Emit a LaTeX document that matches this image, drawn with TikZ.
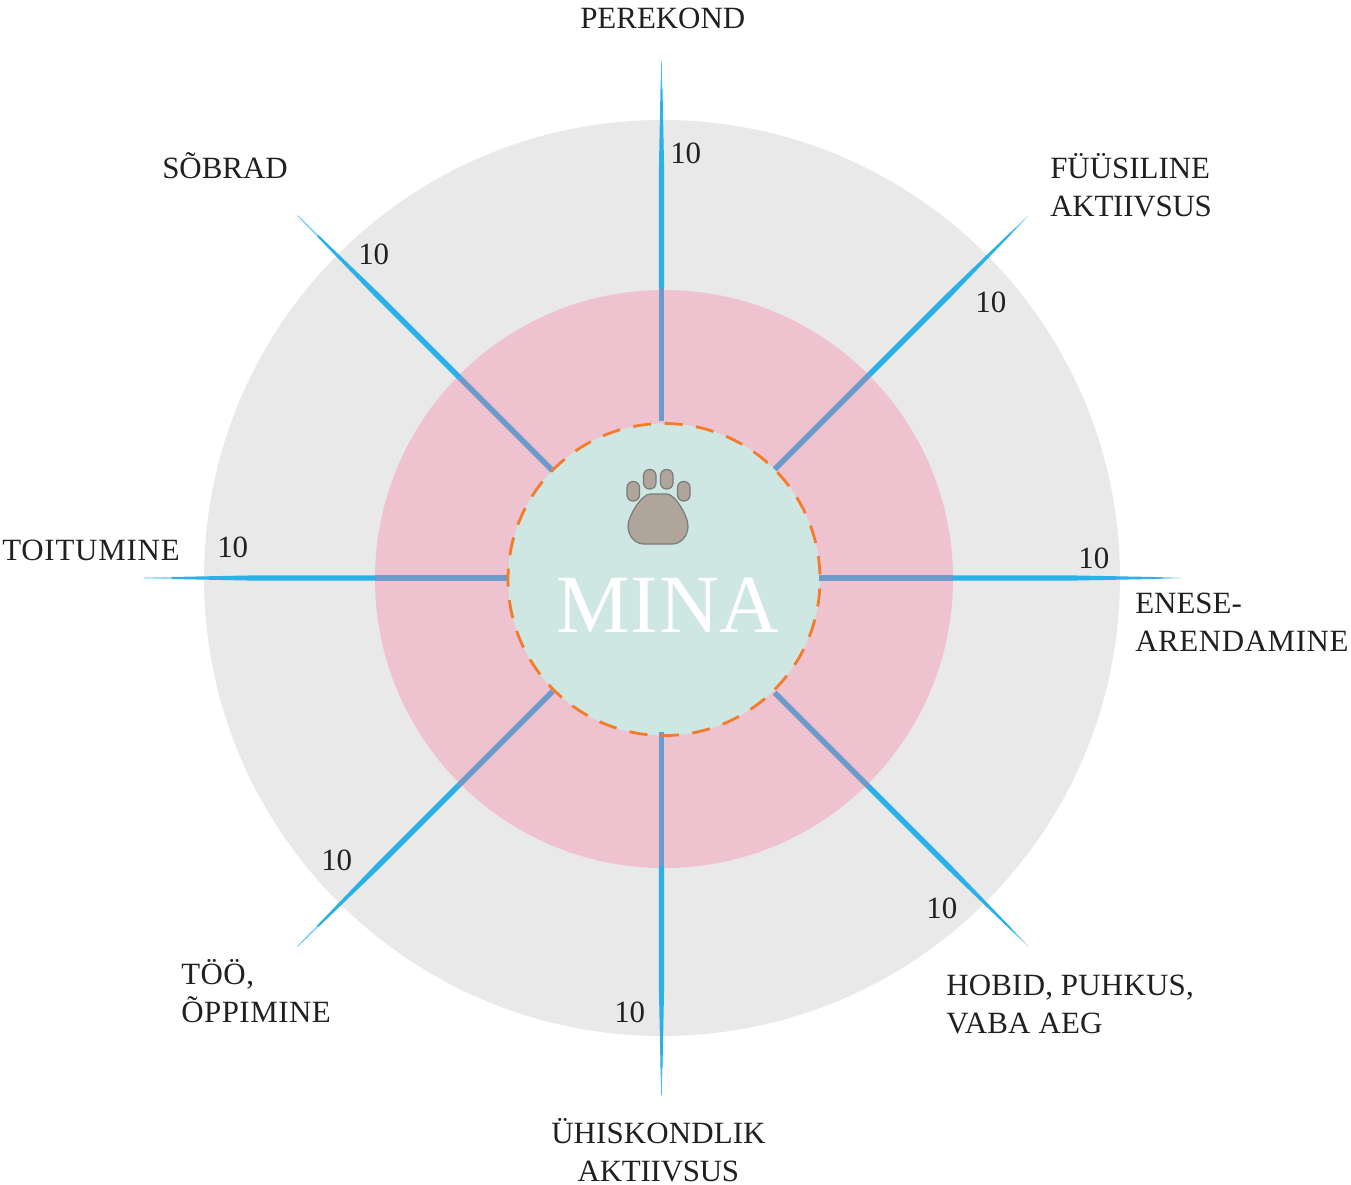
\documentclass[tikz,border=0pt]{standalone}
\usepackage{fontspec}
\setmainfont{Liberation Serif}
\newcommand\lsp[1]{\addfontfeature{LetterSpace=#1}}
\definecolor{outerc}{HTML}{E9E9EA}
\definecolor{pinkc}{HTML}{EEC2CE}
\definecolor{corec}{HTML}{CFE7E2}
\definecolor{dashc}{HTML}{F47B2A}
\definecolor{cyanc}{HTML}{2CB0E8}
\definecolor{bluec}{HTML}{6C9ACB}
\definecolor{pawc}{HTML}{AFA59B}
\definecolor{pawl}{HTML}{7A7A7A}
\definecolor{textc}{HTML}{231F20}
\tikzset{
  x=0.75pt,y=-0.75pt,
  disc/.style={circle,inner sep=0pt,minimum size=#1*0.75pt},
  lab/.style={anchor=base west,inner sep=0pt,text=textc,font=\fontsize{23.2}{28.5}\selectfont,align=left},
  labc/.style={lab,align=center},
  num/.style={anchor=base west,inner sep=0pt,text=textc,font=\fontsize{23.2}{28}\selectfont},
  toe/.style={draw=pawl,fill=pawc,line width=0.9pt,rounded corners=4.5pt},
}
\begin{document}
\begin{tikzpicture}
\useasboundingbox (0,0) rectangle (1351,1184);
\node[disc=916,fill=outerc] (outer) at (662,578) {};
\node[disc=578,fill=pinkc] (mid) at (664,579) {};
\node[disc=312,fill=corec] (core) at (664,579.5) {};
% spokes: angle / centre / inner radius / pink edge radius / tip radius
\foreach \a/\cx/\cy/\st/\pe/\tip in {0/662/578/157/291/520, 90/661.5/578/154/288/518, 180/662/578/153/287/519, 270/661.5/578/157/290/517,
                             45/663/581/158/291/517, 135/663/581/156/289/517, 225/663/581/156/287/517, 315/663/581/158/291/517}{
  \begin{scope}[shift={(\cx,\cy)},rotate=-\a]
    \fill[bluec] (\st,-2.7) -- (\pe,-2.7) -- (\pe,2.7) -- (\st,2.7) -- cycle;
    \fill[cyanc] (\pe,-2.7) -- (405,-2.7) -- (\tip-28,-1.0) -- (\tip-28,1.0) -- (405,2.7) -- (\pe,2.7) -- cycle;
    \shade[left color=cyanc,right color=white!60!cyanc] (\tip-28.5,-1.0) -- (\tip,-0.2) -- (\tip,0.2) -- (\tip-28.5,1.0) -- cycle;
  \end{scope}
}
\draw[dashc,line width=2.1pt,dash pattern=on 13.6pt off 10.1pt,dash phase=17pt] (664,579.5) circle[radius=156];
% paw
\draw[draw=pawl,fill=pawc,line width=0.9pt]
  (650,494) -- (667,494) .. controls (675,494) and (688,516) .. (688,526)
  .. controls (688,536) and (681,544) .. (672,544) -- (644,544)
  .. controls (635,544) and (628,536) .. (628,526)
  .. controls (628,516) and (642,494) .. (650,494) -- cycle;
\draw[toe] (627,481.5) rectangle (639.5,501);
\draw[toe] (643.5,469.5) rectangle (656,489);
\draw[toe] (660.5,469.5) rectangle (673,489);
\draw[toe] (677.5,481.5) rectangle (690,501);
\node[anchor=base west,inner sep=0pt,text=white,font=\fontsize{62}{62}\selectfont\lsp{1.2}] (mina) at (556,632) {MINA};
% labels (a several-line label is placed by its last baseline)
\node[lab] (l1) at (580,29) {PEREKOND};
\node[lab] (l2) at (1050,216) {FÜÜSILINE\\{\lsp{-0.7}AKTIIVSUS}};
\node[lab] (l3) at (1135,651) {ENESE-\\{\lsp{1.9}ARENDAMINE}};
\node[lab] (l4) at (946,1033) {{\lsp{0.7}HOBID, PUHKUS,}\\{\lsp{0.7}VABA AEG}};
\node[labc] (l5) at (551,1181) {{\lsp{0.4}ÜHISKONDLIK}\\{\lsp{-0.7}AKTIIVSUS}};
\node[lab] (l6) at (181,1022) {{\lsp{1.6}TÖÖ,}\\{\lsp{1.6}ÕPPIMINE}};
\node[lab] (l7) at (2,560) {{\lsp{2.5}TOITUMINE}};
\node[lab] (l8) at (162,178) {SÕBRAD};
\foreach \n/\x/\y in {a/670/163,b/975/312,c/1078/568,d/926/918,e/614/1022,f/321/870,g/217/557,h/358/264}{
  \node[num] (n\n) at (\x,\y) {10};
}
\end{tikzpicture}
\end{document}
